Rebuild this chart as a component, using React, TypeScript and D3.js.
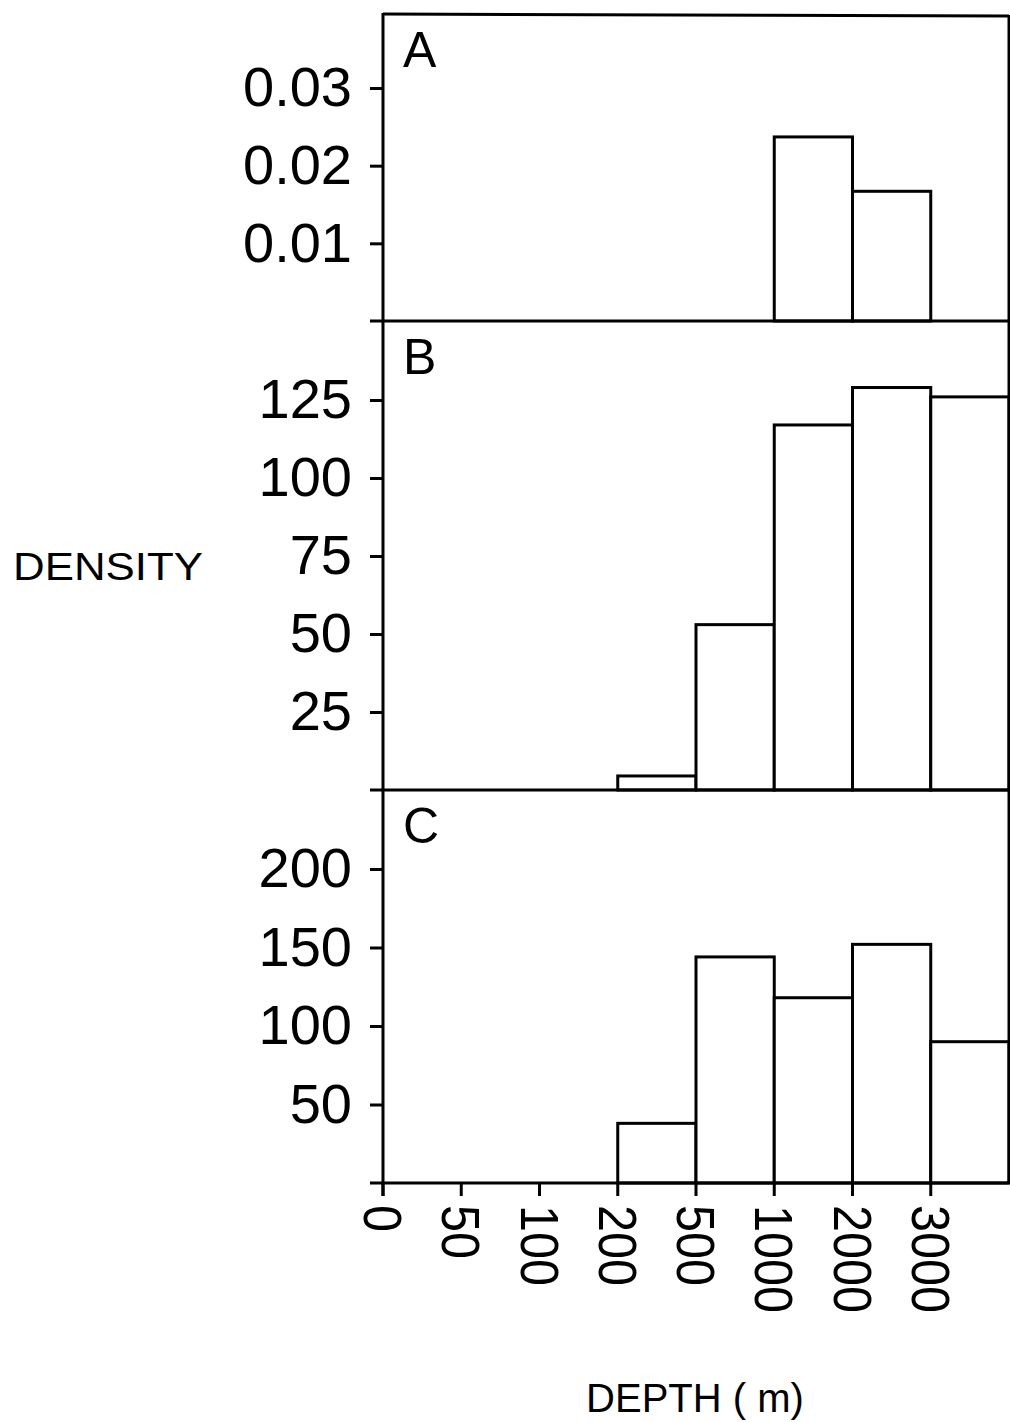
import React, { useRef, useEffect } from 'react';
import * as d3 from 'd3';

// depth class boundaries (equal spacing on the axis, not to scale)
const depthLabels = ['0', '50', '100', '200', '500', '1000', '2000', '3000'];
const binCount = 8; // last bin is 3000+

// density per depth bin (0-50, 50-100, 100-200, 200-500, 500-1000, 1000-2000, 2000-3000, 3000+)
const densityA = [0, 0, 0, 0, 0, 0.0237, 0.0167, 0];
const densityB = [0, 0, 0, 4.5, 53, 117, 129, 126];
const densityC = [0, 0, 0, 38, 144, 118, 152, 90];

const ticksA = [0.01, 0.02, 0.03];
const ticksB = [25, 50, 75, 100, 125];
const ticksC = [50, 100, 150, 200];

const panelNames = ['A', 'B', 'C'];

export default function App() {
    const svgRef = useRef<SVGSVGElement>(null);

    useEffect(() => {
        if (!svgRef.current) return;
        const width = 1010;
        const height = 1422;
        const axisX = 383;
        const rightX = 1009;
        const font = '"Liberation Sans", Arial, sans-serif';
        const lw = 3;

        const svg = d3.select(svgRef.current)
            .attr('width', width)
            .attr('height', height)
            .attr('viewBox', `0 0 ${width} ${height}`);
        svg.selectAll('*').remove();

        const x = d3.scaleLinear().domain([0, binCount]).range([axisX, rightX]);

        // panel layout: top edge, baseline, and pixel row of the top tick
        const panels = [
            { name: panelNames[0], values: densityA, ticks: ticksA, fmt: d3.format('.2f'), top: 14, base: 321, refY: 88 },
            { name: panelNames[1], values: densityB, ticks: ticksB, fmt: d3.format('d'), top: 321, base: 790, refY: 400 },
            { name: panelNames[2], values: densityC, ticks: ticksC, fmt: d3.format('d'), top: 790, base: 1183, refY: 869 },
        ];

        const g = svg.append('g');

        panels.forEach((p) => {
            const maxTick = p.ticks[p.ticks.length - 1];
            const y = d3.scaleLinear().domain([0, maxTick]).range([p.base, p.refY]);

            // bars
            g.append('g')
                .selectAll('rect')
                .data(p.values.map((v, i) => ({ v, i })).filter((d) => d.v > 0))
                .join('rect')
                .attr('x', (d) => x(d.i))
                .attr('y', (d) => y(d.v))
                .attr('width', (d) => x(d.i + 1) - x(d.i))
                .attr('height', (d) => p.base - y(d.v))
                .attr('fill', 'white')
                .attr('stroke', 'black')
                .attr('stroke-width', lw);

            // y axis ticks and labels
            const ax = g.append('g')
                .attr('transform', `translate(${axisX},0)`)
                .call(d3.axisLeft(y).tickValues(p.ticks).tickFormat((d) => p.fmt(d as number)).tickSize(13).tickPadding(18).tickSizeOuter(0));
            ax.select('.domain').remove();
            ax.selectAll('line').attr('stroke', 'black').attr('stroke-width', lw);
            ax.selectAll('text')
                .attr('font-family', font)
                .attr('font-size', 56)
                .attr('fill', 'black');

            // baseline, extending left of the axis
            g.append('line')
                .attr('x1', axisX - 13).attr('x2', rightX)
                .attr('y1', p.base).attr('y2', p.base)
                .attr('stroke', 'black').attr('stroke-width', lw);

            // panel letter
            g.append('text')
                .attr('x', axisX + 20)
                .attr('y', p.top + 53)
                .attr('font-family', font)
                .attr('font-size', 50)
                .text(p.name);
        });

        // top frame line
        g.append('line')
            .attr('x1', axisX).attr('x2', rightX)
            .attr('y1', 14).attr('y2', 16)
            .attr('stroke', 'black').attr('stroke-width', lw);

        // left axis line (runs through all panels)
        g.append('line')
            .attr('x1', axisX).attr('x2', axisX)
            .attr('y1', 13).attr('y2', 1196)
            .attr('stroke', 'black').attr('stroke-width', lw);

        // right frame
        g.append('line')
            .attr('x1', rightX).attr('x2', rightX)
            .attr('y1', 15).attr('y2', 1183)
            .attr('stroke', 'black').attr('stroke-width', lw);

        // x ticks and rotated labels
        const xt = g.append('g');
        depthLabels.forEach((lab, i) => {
            xt.append('line')
                .attr('x1', x(i)).attr('x2', x(i))
                .attr('y1', 1183).attr('y2', 1196)
                .attr('stroke', 'black').attr('stroke-width', lw);
            xt.append('text')
                .attr('transform', `translate(${x(i)},1205) rotate(90)`)
                .attr('dominant-baseline', 'central')
                .attr('font-family', font)
                .attr('font-size', 54)
                .attr('textLength', lab.length * 27)
                .attr('lengthAdjust', 'spacingAndGlyphs')
                .text(lab);
        });

        // axis titles
        g.append('text')
            .attr('x', 13)
            .attr('y', 580)
            .attr('font-family', font)
            .attr('font-size', 38)
            .attr('textLength', 190)
            .attr('lengthAdjust', 'spacingAndGlyphs')
            .text('DENSITY');

        g.append('text')
            .attr('x', 695)
            .attr('y', 1412)
            .attr('text-anchor', 'middle')
            .attr('font-family', font)
            .attr('font-size', 40)
            .text('DEPTH ( m)');
    }, []);

    return <svg ref={svgRef} style={{ position: 'absolute', left: 0, top: 0, background: 'white' }} />;
}
